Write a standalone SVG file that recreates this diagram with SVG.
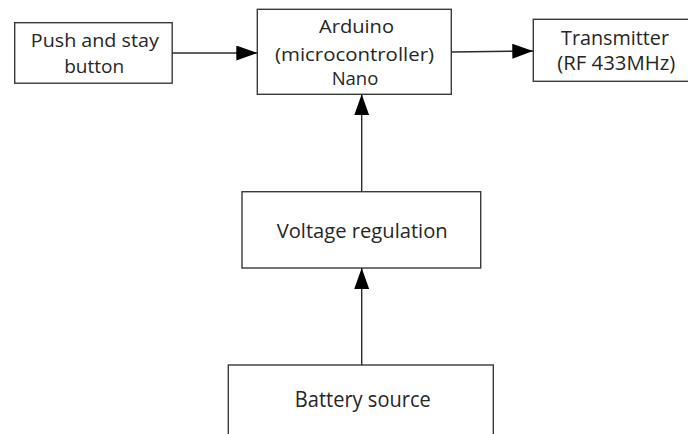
<svg xmlns="http://www.w3.org/2000/svg" width="688" height="434" viewBox="0 0 688 434">
<style>
.box{fill:#fff;stroke:#3a3a3a;stroke-width:1.4}
.lbl{font-family:"Open Sans","Noto Sans",sans-serif;fill:#262626;text-anchor:middle}
.conn{stroke:#2a2a2a;stroke-width:1.4;fill:none;marker-end:url(#ah)}
</style>
<defs>
<marker id="ah" markerUnits="userSpaceOnUse" markerWidth="21" markerHeight="15" refX="21" refY="7.5" orient="auto">
<path d="M0,0 L21,7.5 L0,15 z" fill="#000"/>
</marker>
</defs>
<rect width="688" height="434" fill="#fff"/>
<g id="push">
<rect class="box" x="14.7" y="22.7" width="157.5" height="60.5"/>
<text class="lbl" x="94.8" y="46.7" font-size="18.5" textLength="128" lengthAdjust="spacingAndGlyphs">Push and stay</text>
<text class="lbl" x="94.2" y="73.3" font-size="18.5" textLength="60" lengthAdjust="spacingAndGlyphs">button</text>
</g>
<g id="arduino">
<rect class="box" x="257.3" y="9.3" width="194" height="85"/>
<text class="lbl" x="356.5" y="33.3" font-size="18" textLength="75" lengthAdjust="spacingAndGlyphs">Arduino</text>
<text class="lbl" x="354.5" y="61" font-size="18" textLength="159" lengthAdjust="spacingAndGlyphs">(microcontroller)</text>
<text class="lbl" x="355" y="85" font-size="18.5">Nano</text>
</g>
<g id="transmitter">
<rect class="box" x="533.3" y="19.3" width="170" height="62"/>
<text class="lbl" x="615" y="45" font-size="19.5" textLength="108" lengthAdjust="spacingAndGlyphs">Transmitter</text>
<text class="lbl" x="616.3" y="70" font-size="19.5" textLength="118" lengthAdjust="spacingAndGlyphs">(RF 433MHz)</text>
</g>
<g id="voltage">
<rect class="box" x="242" y="191.7" width="238.7" height="76.3"/>
<text class="lbl" x="362.2" y="237.7" font-size="20" textLength="171" lengthAdjust="spacingAndGlyphs">Voltage regulation</text>
</g>
<g id="battery">
<rect class="box" x="228.3" y="365" width="265" height="80"/>
<text class="lbl" x="362.8" y="407.3" font-size="21.5" textLength="136" lengthAdjust="spacingAndGlyphs">Battery source</text>
</g>
<g id="connectors">
<line class="conn" x1="172.3" y1="53" x2="257.3" y2="53"/>
<line class="conn" x1="451.3" y1="52" x2="533.3" y2="51"/>
<line class="conn" x1="361.7" y1="191.7" x2="361.7" y2="94.3"/>
<line class="conn" x1="361.7" y1="365" x2="361.7" y2="268"/>
</g>
</svg>
